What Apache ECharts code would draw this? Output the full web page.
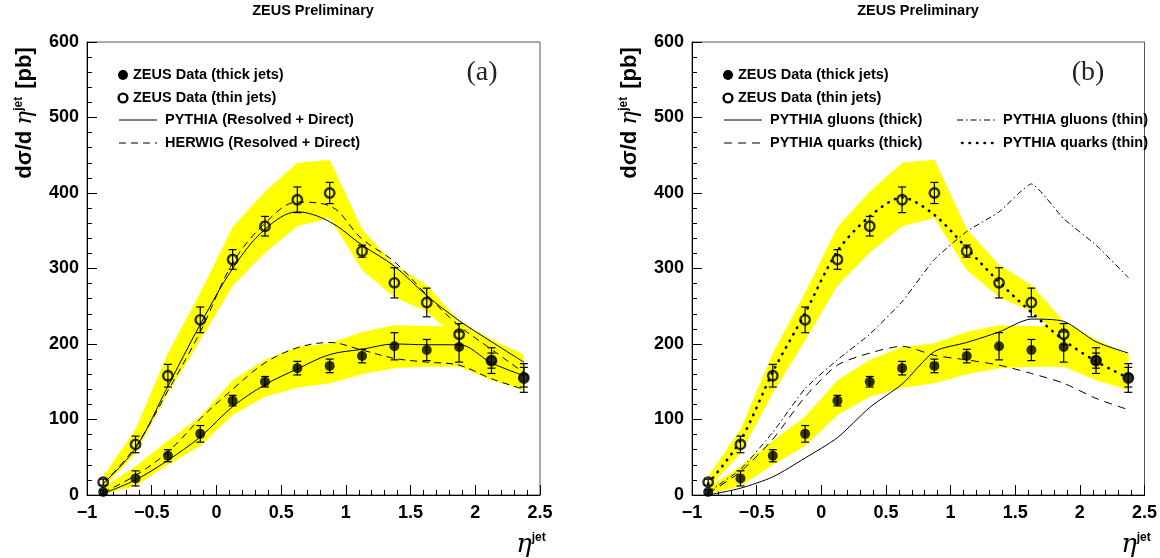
<!DOCTYPE html>
<html>
<head>
<meta charset="utf-8">
<title>ZEUS Preliminary</title>
<script src="https://cdn.jsdelivr.net/npm/echarts@6/dist/echarts.min.js"></script>
<style>
html, body { margin: 0; padding: 0; background: #fff; }
#chart { width: 1160px; height: 558px; }
</style>
</head>
<body>
<div id="chart"></div>
<script>
// eta^jet bin centres
const eta = [-0.875, -0.625, -0.375, -0.125, 0.125, 0.375, 0.625, 0.875, 1.125, 1.375, 1.625, 1.875, 2.125, 2.375];

// ZEUS data, dsigma/deta [pb]
const thickJets = [4, 22, 52, 81, 125, 150, 168, 171, 184, 197, 192, 196, 178, 156];
const thickErr = [3, 10, 8, 11, 7, 7, 9, 9, 9, 18, 14, 20, 10, 13];
const thinJets = [17, 67, 158, 232, 312, 356, 391, 400, 323, 281, 255, 213, 178, 155];
const thinErr = [4, 11, 15, 17, 13, 13, 17, 14, 8, 20, 19, 14, 17, 19];

// systematic (energy scale) bands
const thickBandLo = [1, 12, 40, 65, 106, 130, 142, 148, 160, 168, 170, 170, 152, 139];
const thickBandHi = [10, 38, 72, 104, 152, 179, 196, 201, 216, 225, 224, 223, 194, 186];
const thinBandLo = [9, 55, 135, 205, 277, 321, 356, 367, 298, 262, 243, 205, 173, 137];
const thinBandHi = [25, 87, 188, 268, 355, 402, 440, 444, 352, 305, 278, 230, 206, 186];

// MC predictions, panel (a)
const pythiaThick = [2, 20, 46, 77, 117, 146, 167, 186, 193, 200, 199, 199, 175, 158];
const pythiaThin = [15, 62, 144, 226, 300, 352, 375, 362, 331, 303, 264, 231, 203, 176];
const herwigThick = [3, 26, 57, 101, 140, 175, 195, 202, 192, 181, 176, 172, 154, 140];
const herwigThin = [15, 64, 138, 216, 307, 360, 388, 383, 339, 309, 265, 224, 193, 162];

// MC predictions, panel (b)
const gluonThick = [0, 9, 24, 49, 76, 116, 147, 190, 202, 216, 233, 230, 203, 188];
const quarkThick = [2, 31, 74, 130, 172, 188, 197, 185, 179, 172, 161, 148, 128, 113];
const gluonThin = [4, 34, 83, 141, 179, 213, 256, 312, 349, 375, 412, 366, 331, 288];
const quarkThin = [15, 72, 163, 241, 323, 369, 394, 371, 327, 282, 242, 205, 177, 155];

const FONT = '"Liberation Sans", Arial, sans-serif';
const YELLOW = '#ffff00';

const chart = echarts.init(document.getElementById('chart'));

function pairs(arr) {
  return eta.map((x, i) => [x, arr[i]]);
}

function xAx(g) {
  return {
    type: 'value', gridIndex: g, min: -1, max: 2.5, interval: 0.5,
    axisLine: { show: true, onZero: false, lineStyle: { color: '#000', width: 1 } },
    axisTick: { show: true, inside: true, length: 10, lineStyle: { color: '#000' } },
    minorTick: { show: true, splitNumber: 5, length: 5, lineStyle: { color: '#000' } },
    splitLine: { show: false },
    axisLabel: {
      color: '#000', fontFamily: FONT, fontWeight: 'bold', fontSize: 18, margin: 9,
      formatter: v => (v < 0 ? '\u2212' + (-v) : String(v))
    }
  };
}

function yAx(g) {
  return {
    type: 'value', gridIndex: g, min: 0, max: 600, interval: 100,
    axisLine: { show: true, onZero: false, lineStyle: { color: '#000', width: 1 } },
    axisTick: { show: true, inside: true, length: 10, lineStyle: { color: '#000' } },
    minorTick: { show: true, splitNumber: 5, length: 5, lineStyle: { color: '#000' } },
    splitLine: { show: false },
    axisLabel: { color: '#000', fontFamily: FONT, fontWeight: 'bold', fontSize: 18, margin: 8 }
  };
}

// yellow band: one polygon through lo edge and back along hi edge
function band(lo, hi, g) {
  return {
    type: 'custom', xAxisIndex: g, yAxisIndex: g, z: 1, silent: true,
    data: eta.map((x, i) => [x, lo[i], hi[i]]),
    encode: { x: 0, y: [1, 2] },
    renderItem: function (params, api) {
      if (params.dataIndex !== 0) return null;
      const pts = [];
      eta.forEach((x, i) => pts.push(api.coord([x, lo[i]])));
      for (let i = eta.length - 1; i >= 0; i--) pts.push(api.coord([eta[i], hi[i]]));
      return { type: 'polygon', shape: { points: pts }, style: { fill: YELLOW } };
    }
  };
}

function curve(arr, g, dash, opts) {
  return Object.assign({
    type: 'line', xAxisIndex: g, yAxisIndex: g, data: pairs(arr),
    symbol: 'none', smooth: 0.35, silent: true, z: 3,
    lineStyle: { color: '#000', width: 1, type: dash }
  }, opts || {});
}

function errorBars(vals, errs, g) {
  return {
    type: 'custom', xAxisIndex: g, yAxisIndex: g, z: 4, silent: true,
    data: eta.map((x, i) => [x, vals[i], errs[i]]),
    encode: { x: 0, y: 1 },
    renderItem: function (params, api) {
      const x = api.value(0), y = api.value(1), e = api.value(2);
      const t = api.coord([x, y + e]);
      const b = api.coord([x, y - e]);
      const w = 4;
      const st = { stroke: '#000', lineWidth: 1.2 };
      return {
        type: 'group',
        children: [
          { type: 'line', shape: { x1: t[0], y1: t[1], x2: b[0], y2: b[1] }, style: st },
          { type: 'line', shape: { x1: t[0] - w, y1: t[1], x2: t[0] + w, y2: t[1] }, style: st },
          { type: 'line', shape: { x1: b[0] - w, y1: b[1], x2: b[0] + w, y2: b[1] }, style: st }
        ]
      };
    }
  };
}

function points(vals, g, open) {
  return {
    type: 'scatter', xAxisIndex: g, yAxisIndex: g, z: 5, silent: true,
    data: pairs(vals), symbol: 'circle', symbolSize: open ? 9.5 : 10,
    itemStyle: open
      ? { color: 'rgba(0,0,0,0)', borderColor: '#000', borderWidth: 2.4 }
      : { color: '#000' }
  };
}

const seriesA = [
  band(thinBandLo, thinBandHi, 0),
  band(thickBandLo, thickBandHi, 0),
  curve(pythiaThin, 0, 'solid'),
  curve(pythiaThick, 0, 'solid'),
  curve(herwigThin, 0, [7, 5]),
  curve(herwigThick, 0, [7, 5]),
  errorBars(thinJets, thinErr, 0),
  errorBars(thickJets, thickErr, 0),
  points(thickJets, 0, false),
  points(thinJets, 0, true)
];

const seriesB = [
  band(thinBandLo, thinBandHi, 1),
  band(thickBandLo, thickBandHi, 1),
  curve(gluonThick, 1, 'solid', { smooth: 0.25 }),
  curve(quarkThick, 1, [8, 6], { smooth: 0.25 }),
  curve(gluonThin, 1, [6, 3, 1.5, 3], { smooth: 0.15 }),
  curve(quarkThin, 1, [0.5, 7], { smooth: 0.3, lineStyle: { color: '#000', width: 2.6, type: [0.5, 7], cap: 'round' } }),
  errorBars(thinJets, thinErr, 1),
  errorBars(thickJets, thickErr, 1),
  points(thickJets, 1, false),
  points(thinJets, 1, true)
];

// legend and labels drawn as graphic elements
const rowY = [75, 98, 120, 143];
const txt = { fontFamily: FONT, fontWeight: 'bold', fontSize: 14.5, fill: '#000', verticalAlign: 'middle' };

function legendA(dx) {
  return [
    { type: 'circle', shape: { cx: 123 + dx, cy: rowY[0], r: 5 }, style: { fill: '#000' } },
    { type: 'text', x: 133 + dx, y: rowY[0], style: Object.assign({ text: 'ZEUS Data (thick jets)' }, txt) },
    { type: 'circle', shape: { cx: 123 + dx, cy: rowY[1], r: 4.4 }, style: { fill: 'none', stroke: '#000', lineWidth: 2.4 } },
    { type: 'text', x: 133 + dx, y: rowY[1], style: Object.assign({ text: 'ZEUS Data (thin jets)' }, txt) }
  ];
}

function legendLine(x1, x2, y, dash, width, cap) {
  return {
    type: 'line', shape: { x1: x1, y1: y, x2: x2, y2: y },
    style: { stroke: '#000', lineWidth: width || 1, lineDash: dash, lineCap: cap || 'butt' }
  };
}

function axisTitles(dx) {
  return [
    {
      type: 'text', x: 313 + dx, y: 11,
      style: { text: 'ZEUS Preliminary', fontFamily: FONT, fontWeight: 'bold', fontSize: 14.5, fill: '#000', align: 'center', verticalAlign: 'middle' }
    },
    {
      type: 'text', x: 25 + dx, y: 113, rotation: Math.PI / 2,
      style: {
        text: '{a|d\u03c3/d }{e|\u03b7}{s|jet}{a| [pb]}',
        align: 'center', verticalAlign: 'middle', fill: '#000',
        rich: {
          a: { fontFamily: FONT, fontWeight: 'bold', fontSize: 22, fill: '#000' },
          e: { fontFamily: '"DejaVu Serif", serif', fontStyle: 'italic', fontSize: 23, fill: '#000' },
          s: { fontFamily: FONT, fontWeight: 'bold', fontSize: 12, fill: '#000', verticalAlign: 'top', padding: [0, 2, 12, 0] }
        }
      }
    },
    {
      type: 'text', x: 531 + dx, y: 545,
      style: {
        text: '{e|\u03b7}{s|jet}',
        align: 'center', verticalAlign: 'middle', fill: '#000',
        rich: {
          e: { fontFamily: '"DejaVu Serif", serif', fontStyle: 'italic', fontSize: 26, fill: '#000' },
          s: { fontFamily: FONT, fontWeight: 'bold', fontSize: 12, fill: '#000', verticalAlign: 'top', padding: [0, 0, 14, 0] }
        }
      }
    }
  ];
}

const graphics = [].concat(
  legendA(0),
  [
    legendLine(119, 157, rowY[2], null),
    { type: 'text', x: 165, y: rowY[2], style: Object.assign({ text: 'PYTHIA (Resolved + Direct)' }, txt) },
    legendLine(119, 157, rowY[3], [7, 5]),
    { type: 'text', x: 165, y: rowY[3], style: Object.assign({ text: 'HERWIG (Resolved + Direct)' }, txt) },
    {
      type: 'text', x: 482, y: 73,
      style: { text: '(a)', fontFamily: '"Liberation Serif", "DejaVu Serif", serif', fontSize: 28, fill: '#222', align: 'center', verticalAlign: 'middle' }
    }
  ],
  legendA(605),
  [
    legendLine(724, 762, rowY[2], null),
    { type: 'text', x: 770, y: rowY[2], style: Object.assign({ text: 'PYTHIA gluons (thick)' }, txt) },
    legendLine(724, 762, rowY[3], [8, 6]),
    { type: 'text', x: 770, y: rowY[3], style: Object.assign({ text: 'PYTHIA quarks (thick)' }, txt) },
    legendLine(957, 995, rowY[2], [6, 3, 1.5, 3]),
    { type: 'text', x: 1003, y: rowY[2], style: Object.assign({ text: 'PYTHIA gluons (thin)' }, txt) },
    legendLine(962, 995, rowY[3], [0.5, 7], 2.6, 'round'),
    { type: 'text', x: 1003, y: rowY[3], style: Object.assign({ text: 'PYTHIA quarks (thin)' }, txt) },
    {
      type: 'text', x: 1088, y: 73,
      style: { text: '(b)', fontFamily: '"Liberation Serif", "DejaVu Serif", serif', fontSize: 28, fill: '#222', align: 'center', verticalAlign: 'middle' }
    }
  ],
  axisTitles(0),
  axisTitles(605)
);

chart.setOption({
  animation: false,
  backgroundColor: '#fff',
  grid: [
    { left: 87, top: 42, width: 453, height: 453, show: true, borderColor: '#555', borderWidth: 1, backgroundColor: 'transparent' },
    { left: 692, top: 42, width: 453, height: 453, show: true, borderColor: '#555', borderWidth: 1, backgroundColor: 'transparent' }
  ],
  xAxis: [xAx(0), xAx(1)],
  yAxis: [yAx(0), yAx(1)],
  series: seriesA.concat(seriesB),
  graphic: graphics
});
</script>
</body>
</html>
